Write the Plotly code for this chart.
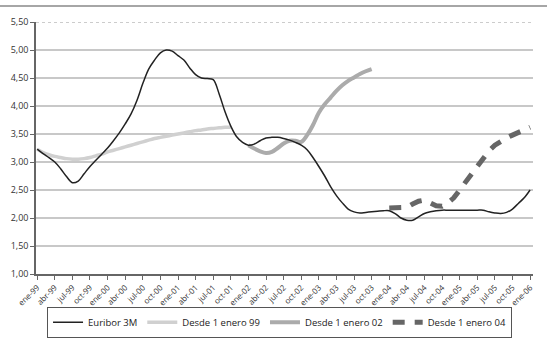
import plotly.graph_objects as go

tick_labels = ["ene-99","abr-99","jul-99","oct-99","ene-00","abr-00","jul-00","oct-00",
               "ene-01","abr-01","jul-01","oct-01","ene-02","abr-02","jul-02","oct-02",
               "ene-03","abr-03","jul-03","oct-03","ene-04","abr-04","jul-04","oct-04",
               "ene-05","abr-05","jul-05","oct-05","ene-06"]

# monthly index 0 = ene-99 ... 84 = ene-06
euribor = [3.23,3.15,3.08,3.00,2.88,2.74,2.63,2.66,2.79,2.92,3.03,3.14,
           3.25,3.38,3.52,3.68,3.86,4.10,4.40,4.66,4.82,4.95,5.00,4.98,
           4.90,4.82,4.68,4.56,4.50,4.49,4.47,4.22,3.90,3.64,3.45,3.35,
           3.30,3.32,3.38,3.43,3.44,3.44,3.42,3.39,3.35,3.30,3.22,3.08,
           2.92,2.75,2.56,2.40,2.27,2.16,2.11,2.09,2.10,2.11,2.12,2.13,
           2.13,2.08,2.00,1.96,1.96,2.02,2.08,2.11,2.13,2.14,2.14,2.14,
           2.14,2.14,2.14,2.14,2.14,2.11,2.09,2.08,2.10,2.16,2.26,2.36,2.50]

desde99_start = 0
desde99 = [3.23,3.17,3.13,3.10,3.08,3.06,3.05,3.05,3.06,3.08,3.11,3.14,
           3.18,3.21,3.24,3.27,3.30,3.33,3.36,3.39,3.42,3.44,3.46,3.48,
           3.50,3.52,3.54,3.56,3.57,3.59,3.60,3.61,3.62,3.62]

desde02_start = 36
desde02 = [3.30,3.24,3.19,3.16,3.18,3.25,3.33,3.38,3.38,3.36,3.48,3.66,
           3.88,4.03,4.15,4.27,4.37,4.45,4.51,4.57,4.62,4.66]

desde04_start = 60
desde04 = [2.18,2.18,2.18,2.19,2.25,2.30,2.32,2.28,2.22,2.21,2.27,2.36,
           2.50,2.65,2.80,2.93,3.07,3.20,3.30,3.37,3.43,3.48,3.53,3.58,3.62]

y_ticks = [1.0,1.5,2.0,2.5,3.0,3.5,4.0,4.5,5.0,5.5]
y_labels = [f"{v:.2f}".replace(".", ",") for v in y_ticks]

fig = go.Figure()
fig.add_trace(go.Scatter(x=list(range(desde99_start, desde99_start+len(desde99))), y=desde99,
                         mode="lines", name="Desde 1 enero 99", legendrank=2,
                         line=dict(color="#d0d0d0", width=3.5, shape="spline")))
fig.add_trace(go.Scatter(x=list(range(desde02_start, desde02_start+len(desde02))), y=desde02,
                         mode="lines", name="Desde 1 enero 02", legendrank=3,
                         line=dict(color="#ababab", width=4, shape="spline")))
fig.add_trace(go.Scatter(x=list(range(desde04_start, desde04_start+len(desde04))), y=desde04,
                         mode="lines", name="Desde 1 enero 04", legendrank=4,
                         line=dict(color="#666666", width=5, dash="12px,10px")))
fig.add_trace(go.Scatter(x=list(range(len(euribor))), y=euribor,
                         mode="lines", name="Euribor 3M", legendrank=1,
                         line=dict(color="#222222", width=1.5, shape="spline")))

fig.update_layout(
    width=547, height=339,
    margin=dict(l=36, r=14, t=22, b=65, autoexpand=False),
    plot_bgcolor="white", paper_bgcolor="white",
    font=dict(family="Open Sans, DejaVu Sans", color="#333333", size=9),
    xaxis=dict(range=[-0.2, 84.5], tickvals=list(range(0, 85, 3)), ticktext=tick_labels,
               tickangle=-45, showgrid=False, showline=True, linecolor="#666666", linewidth=1.5,
               ticks="outside", ticklen=4, tickcolor="#666666",
               tickfont=dict(size=8, color="#333333"),
               zeroline=False),
    yaxis=dict(range=[1, 5.5], tickvals=y_ticks, ticktext=y_labels,
               showgrid=True, gridcolor="#c8c8c8", gridwidth=1.5,
               showline=True, linecolor="#666666", linewidth=1.5,
               ticks="outside", ticklen=4, tickcolor="#666666",
               tickfont=dict(size=9, color="#333333"),
               zeroline=False),
    legend=dict(orientation="h", x=0.49, xanchor="center",
                yref="container", y=0.004, yanchor="bottom",
                bordercolor="#555555", borderwidth=1, font=dict(size=9.5, color="#222222"),
                traceorder="normal", tracegroupgap=0, itemwidth=30),
    showlegend=True,
)

# dotted line at 5.50 and top rule
fig.add_shape(type="line", xref="paper", yref="y", x0=0, x1=1, y0=5.5, y1=5.5,
              line=dict(color="#999999", width=1, dash="dot"))
fig.add_shape(type="line", xref="paper", yref="paper", x0=-0.08, x1=1.04, y0=1.0635, y1=1.0635,
              line=dict(color="#888888", width=1.5))

fig.write_html("out.html")
